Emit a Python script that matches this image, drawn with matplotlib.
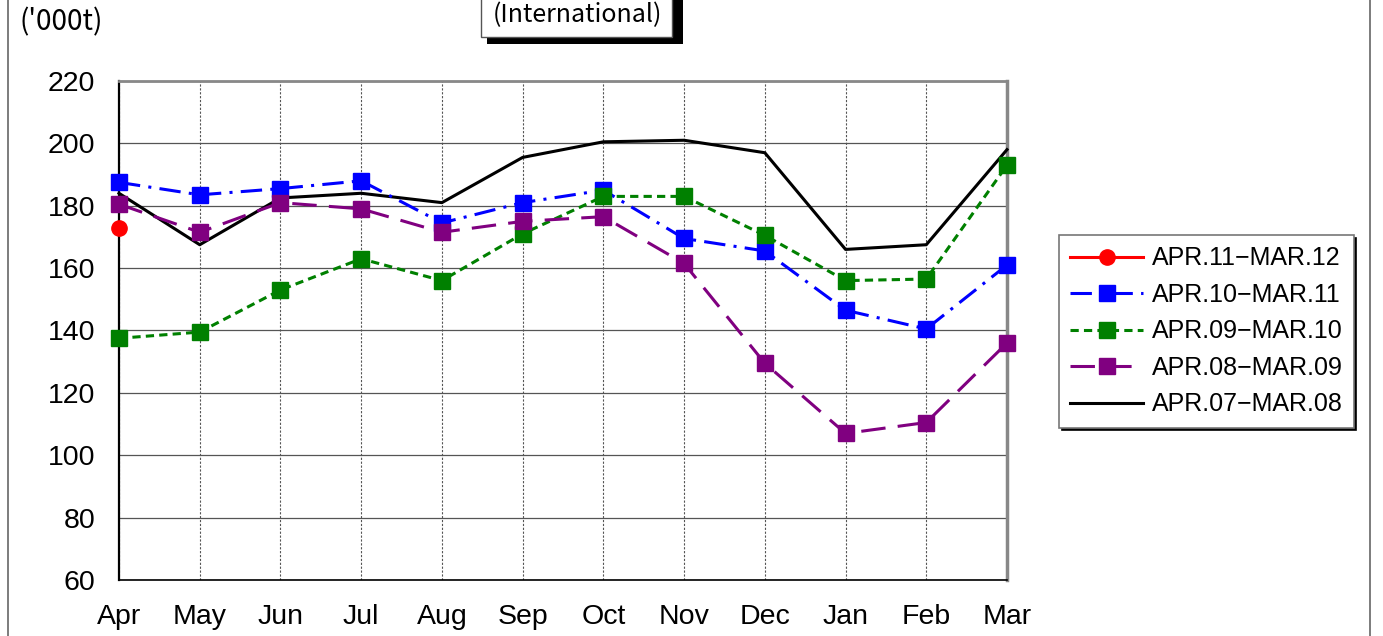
import matplotlib
matplotlib.use("Agg")
import matplotlib.pyplot as plt
from matplotlib.patches import Rectangle

plt.rcParams['font.family'] = ['Liberation Sans', 'DejaVu Sans']

months = ["Apr", "May", "Jun", "Jul", "Aug", "Sep", "Oct", "Nov", "Dec", "Jan", "Feb", "Mar"]

fy11 = [173]
fy10 = [187.5, 183.5, 185.5, 188, 174.5, 181, 185, 169.5, 165.5, 146.5, 140.5, 161]
fy09 = [137.5, 139.5, 153, 163, 156, 171, 183, 183, 170.5, 156, 156.5, 193]
fy08 = [180.5, 171.5, 181, 179, 171.5, 175, 176.5, 161.5, 129.5, 107, 110.5, 136]
fy07 = [184, 167.5, 182.5, 184, 181, 195.5, 200.5, 201, 197, 166, 167.5, 198]

labels = ["APR.11\u2212MAR.12", "APR.10\u2212MAR.11", "APR.09\u2212MAR.10",
          "APR.08\u2212MAR.09", "APR.07\u2212MAR.08"]

W, H = 1383, 636
fig = plt.figure(figsize=(W / 100, H / 100), dpi=100)
ax = fig.add_axes([119 / W, 1 - 580 / H, (1007 - 119) / W, (580 - 81) / H])

x = list(range(len(months)))
lw = 2.2
ax.plot(x[:len(fy11)], fy11, color="red", lw=lw, marker="o", ms=11,
        label=labels[0], clip_on=False, zorder=6)
ax.plot(x, fy10, color="blue", lw=lw, marker="s", ms=11.5, dashes=(7, 2.7, 1, 2.7),
        label=labels[1], clip_on=False, zorder=4)
ax.plot(x, fy09, color="green", lw=lw, marker="s", ms=11.5, dashes=(2.7, 1.7),
        label=labels[2], clip_on=False, zorder=4)
ax.plot(x, fy08, color="purple", lw=lw, marker="s", ms=11.5, dashes=(8, 4),
        label=labels[3], clip_on=False, zorder=4)
ax.plot(x, fy07, color="black", lw=lw, label=labels[4], clip_on=False, zorder=3)

ax.set_xlim(0, len(months) - 1)
ax.set_ylim(60, 220)
ax.set_yticks(range(60, 221, 20))
ax.set_xticks(x)
ax.set_xticklabels(months)
ax.tick_params(length=0, labelsize=20.5)
ax.tick_params(axis="y", pad=17)
ax.tick_params(axis="x", pad=17)

ax.grid(axis="y", color="#555555", lw=0.9, ls="-")
ax.grid(axis="x", color="#555555", lw=0.8, ls=(0, (2, 1.5)))
ax.set_axisbelow(True)
ax.spines["left"].set_color("black")
ax.spines["left"].set_linewidth(1.6)
ax.spines["bottom"].set_color("black")
ax.spines["bottom"].set_linewidth(1.2)
ax.spines["top"].set_color("#888888")
ax.spines["top"].set_linewidth(2)
ax.spines["right"].set_color("#888888")
ax.spines["right"].set_linewidth(2.5)

leg = ax.legend(loc="upper left", bbox_to_anchor=(1059 / W, 1 - 235 / H),
                bbox_transform=fig.transFigure, fontsize=18, frameon=True,
                fancybox=False, edgecolor="#777777", framealpha=1,
                shadow={"color": "black", "alpha": 1}, handlelength=2.9,
                labelspacing=0.5, borderpad=0.45, borderaxespad=0,
                handletextpad=0.35)
leg.get_frame().set_linewidth(1.2)

# outer chart frame
fig.add_artist(Rectangle((8 / W, -0.05), (1370 - 8) / W, 1.2, transform=fig.transFigure,
                         fill=False, edgecolor="#666666", lw=1.2))

# title box with shadow
fig.add_artist(Rectangle((487 / W, 1 - 44 / H), 196 / W, 60 / H, transform=fig.transFigure,
                         facecolor="black", edgecolor="none"))
fig.add_artist(Rectangle((481 / W, 1 - 37 / H), 191 / W, 60 / H, transform=fig.transFigure,
                         facecolor="white", edgecolor="#555555", lw=1))
fig.text(577 / W, 1 - 15 / H, "(International)", ha="center", va="center", fontsize=18,
         family=["Noto Sans CJK JP", "DejaVu Sans"])

fig.text(20 / W, 1 - 22 / H, "('000t)", ha="left", va="center", fontsize=20,
         family=["Noto Sans CJK JP", "DejaVu Sans"])

fig.savefig("out.png", dpi=100)
